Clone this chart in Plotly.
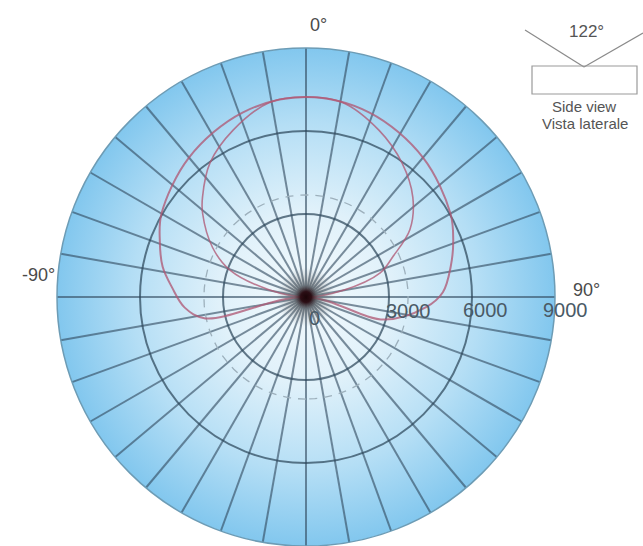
import base64
import plotly.graph_objects as go

# Readings from the picture: angle in degrees (clockwise from top), intensity in cd
outer_theta = [-112, -102, -95, -86, -78, -69, -60, -40, -19, 0, 19, 40, 60, 69, 78, 88, 95, 106, 112]
outer_r = [0, 3720, 4400, 4850, 5300, 5660, 6030, 6580, 7050, 7230, 7050, 6580, 6030, 5700, 5350, 4950, 4340, 2960, 0]
inner_theta = [-90, -79, -70.4, -62, -51, -46, -35.6, -23.6, -10.5, 0, 10.5, 23.6, 35.6, 47, 57, 65, 72, 80, 90]
inner_r = [0, 1340, 2930, 3830, 4810, 5200, 5960, 6580, 7160, 7230, 7160, 6580, 5960, 5280, 4480, 3470, 2820, 1340, 0]
dashed_theta = list(range(-180, 181, 5))
dashed_r = [3690] * len(dashed_theta)
radial_ticks = [0, 3000, 6000, 9000]
radial_labels = ["0", "3000", "6000", "9000"]
angle_ticks = list(range(0, 360, 10))
inset_lines = [(525, 30, 584, 67), (584, 67, 643, 33)]
inset_texts = ["122°", "Side view", "Vista laterale"]
angle_labels = ["0°", "90°", "-90°"]

W, H = 643, 546
CX, CY, R = 306, 297, 249

bg_svg = ("<svg xmlns='http://www.w3.org/2000/svg' width='498' height='498'>"
          "<defs><radialGradient id='g'>"
          "<stop offset='0' stop-color='#f4fafd'/>"
          "<stop offset='0.35' stop-color='#e0f1fa'/>"
          "<stop offset='0.7' stop-color='#b4def5'/>"
          "<stop offset='1' stop-color='#82c7ee'/>"
          "</radialGradient></defs><circle cx='249' cy='249' r='249' fill='url(#g)'/></svg>")
blob_svg = ("<svg xmlns='http://www.w3.org/2000/svg' width='100' height='100'>"
            "<defs><radialGradient id='b'>"
            "<stop offset='0' stop-color='#1a0508' stop-opacity='1'/>"
            "<stop offset='0.18' stop-color='#2a0a10' stop-opacity='0.95'/>"
            "<stop offset='0.4' stop-color='#555' stop-opacity='0.45'/>"
            "<stop offset='1' stop-color='#888' stop-opacity='0'/>"
            "</radialGradient></defs><circle cx='50' cy='50' r='50' fill='url(#b)'/></svg>")
def uri(s):
    return "data:image/svg+xml;base64," + base64.b64encode(s.encode()).decode()

def px(x): return x / W
def py(y): return 1 - y / H

RED = "rgba(176,90,118,0.78)"
fig = go.Figure()
fig.add_trace(go.Scatterpolar(r=dashed_r, theta=dashed_theta, mode="lines",
                              line=dict(color="#9db0bc", width=1.3, dash="8px,7px"), hoverinfo="skip"))
fig.add_trace(go.Scatterpolar(r=outer_r, theta=outer_theta, mode="lines",
                              line=dict(color=RED, width=2, shape="spline"), hoverinfo="skip"))
fig.add_trace(go.Scatterpolar(r=inner_r, theta=inner_theta, mode="lines",
                              line=dict(color=RED, width=1.6, shape="spline"), hoverinfo="skip"))

fig.update_layout(
    width=W, height=H, margin=dict(l=0, r=0, t=0, b=0),
    paper_bgcolor="white", showlegend=False,
    polar=dict(
        domain=dict(x=[px(CX - R), px(CX + R)], y=[py(CY + R), py(CY - R)]),
        bgcolor="rgba(0,0,0,0)",
        radialaxis=dict(range=[0, 9000], tickvals=radial_ticks, showticklabels=False, ticks="",
                        showline=False, gridcolor="rgba(45,70,90,0.72)", gridwidth=2),
        angularaxis=dict(direction="clockwise", rotation=90, tickvals=angle_ticks, showticklabels=False,
                         ticks="", gridcolor="rgba(50,75,95,0.62)", gridwidth=2, linecolor="#6d9cb5", linewidth=1.5),
    ),
    images=[
        dict(source=uri(bg_svg), xref="paper", yref="paper", x=px(CX - R), y=py(CY - R),
             sizex=2 * R / W, sizey=2 * R / H, xanchor="left", yanchor="top", layer="below", sizing="stretch"),
        dict(source=uri(blob_svg), xref="paper", yref="paper", x=px(CX - 30), y=py(CY - 30),
             sizex=60 / W, sizey=60 / H, xanchor="left", yanchor="top", layer="above", sizing="stretch"),
    ],
    shapes=[dict(type="line", xref="paper", yref="paper", x0=px(a), y0=py(b), x1=px(c), y1=py(d),
                 line=dict(color="#8a8a8a", width=1.2)) for a, b, c, d in inset_lines]
           + [dict(type="rect", xref="paper", yref="paper", x0=px(532), x1=px(637), y0=py(66), y1=py(94),
                   line=dict(color="#9a9a9a", width=1.2))],
)

FONT = "Liberation Sans"
def note(text, x, y, size, color="#4a4a4a"):
    fig.add_annotation(text=text, xref="paper", yref="paper", x=px(x), y=py(y), showarrow=False,
                       xanchor="center", yanchor="middle", font=dict(family=FONT, size=size, color=color))

for t, (x, y) in zip(angle_labels, [(318, 25), (586, 290), (38, 275)]):
    note(t, x, y, 18)
for t, (x, y) in zip(radial_labels, [(314, 318), (408, 311), (485, 310), (565, 310)]):
    note(t, x, y, 20, "#4a5a66")
for t, (x, y, s) in zip(inset_texts, [(586, 31, 17), (584, 107, 15), (585, 124, 15)]):
    note(t, x, y, s, "#555555")

fig.write_html("out.html", post_script="document.body.style.margin='0';", config=dict(displayModeBar=False))
